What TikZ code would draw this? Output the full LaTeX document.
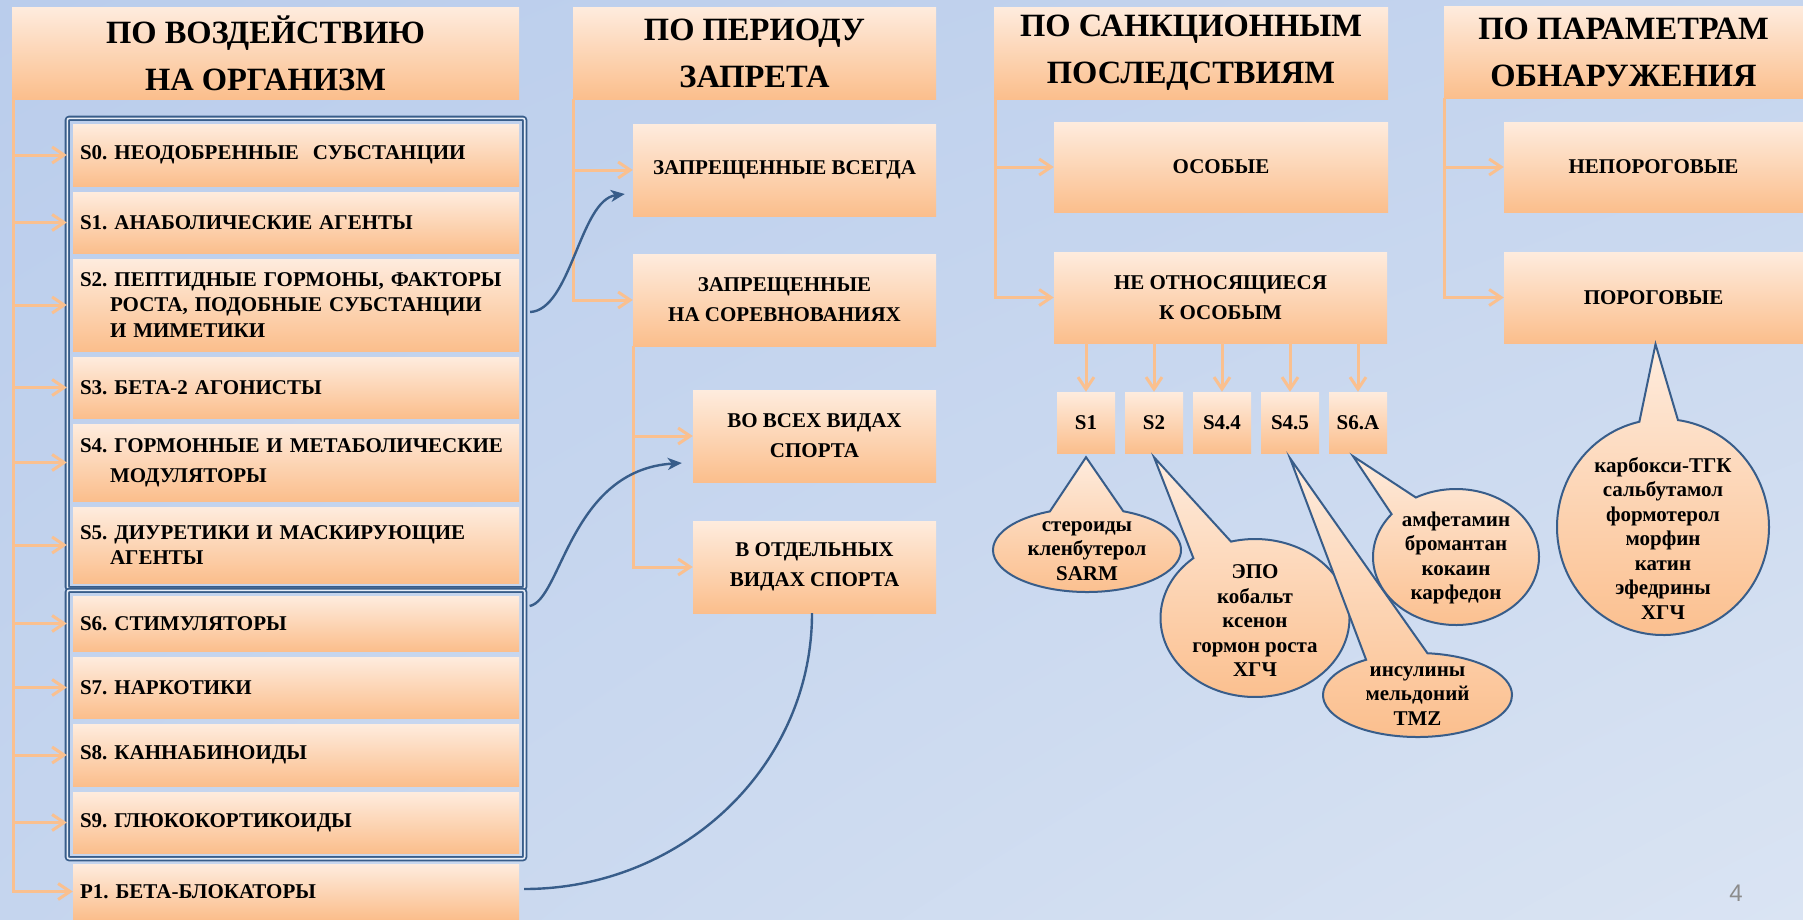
\documentclass[tikz,border=0pt]{standalone}
\usepackage{fontspec}
\setmainfont{Liberation Serif}
\newfontfamily\pgnumfont{Liberation Sans}
\usetikzlibrary{arrows.meta,shapes.callouts,fit,calc,shadings}
\definecolor{bgA}{RGB}{186,205,236}
\definecolor{bgM}{RGB}{197,213,238}
\definecolor{bgB}{RGB}{218,228,243}
\definecolor{boxT}{RGB}{254,236,222}
\definecolor{boxB}{RGB}{251,190,140}
\definecolor{ocol}{RGB}{250,192,143}
\definecolor{bcol}{RGB}{56,93,138}
\definecolor{pgnum}{RGB}{140,140,140}
\frenchspacing
\begin{document}
\begin{tikzpicture}[x=1pt,y=-1pt,
  box/.style={rectangle, top color=boxT, bottom color=boxB, draw=none, inner sep=0pt, align=center},
  hdr/.style={box, minimum height=92pt, font=\fontsize{32.5}{47}\selectfont\bfseries},
  lbox/.style={box, minimum width=446pt, text width=432pt, align=left, font=\fontsize{21}{25.5}\selectfont\bfseries},
  mbox/.style={box, minimum height=92pt, font=\fontsize{21}{30}\selectfont\bfseries},
  sbox/.style={box, minimum width=58pt, minimum height=61pt, font=\fontsize{21}{25}\selectfont\bfseries},
  frame/.style={draw=bcol, line width=1.8pt, double=bgM!40!white, double distance=1.6pt, rounded corners=2pt, inner xsep=5.5pt, inner ysep=5.5pt},
  oarrow/.style={draw=ocol, line width=3pt, -{Straight Barb[length=12pt,width=16pt]}},
  bcurve/.style={draw=bcol, line width=2.4pt},
  barrow/.style={bcurve, -{Stealth[length=14pt,width=12pt,inset=4pt]}},
  callout/.style={ellipse callout, draw=bcol, line width=2pt, top color=boxT, bottom color=boxB, inner sep=0pt},
  ctext/.style={align=center, font=\fontsize{21}{24.5}\selectfont\bfseries}
]
\useasboundingbox (0,0) rectangle (1803,919);
\shade[upper left=bgA, lower right=bgB, upper right=bgM, lower left=bgM] (0,0) rectangle (1803,919);

% headers
\node[hdr, minimum width=507pt] (h1) at (265.5,53) {ПО ВОЗДЕЙСТВИЮ\\НА ОРГАНИЗМ};
\node[hdr, minimum width=363pt] (h2) at (754.5,53) {ПО ПЕРИОДУ\\ЗАПРЕТА};
\node[hdr, minimum width=394pt] (h3) at (1191,53) {ПО САНКЦИОННЫМ\\ПОСЛЕДСТВИЯМ};
\node[hdr, minimum width=359pt] (h4) at (1623.5,52) {ПО ПАРАМЕТРАМ\\ОБНАРУЖЕНИЯ};

% column 1
\node[lbox, minimum height=62pt] (S0) at (296,155) {S0. НЕОДОБРЕННЫЕ\ \ СУБСТАНЦИИ};
\node[lbox, minimum height=61pt] (S1) at (296,222.5) {S1. АНАБОЛИЧЕСКИЕ АГЕНТЫ};
\node[lbox, minimum height=92pt] (S2) at (296,305) {S2. ПЕПТИДНЫЕ ГОРМОНЫ, ФАКТОРЫ\\\hspace*{30pt}РОСТА, ПОДОБНЫЕ СУБСТАНЦИИ\\\hspace*{30pt}И МИМЕТИКИ};
\node[lbox, minimum height=61pt] (S3) at (296,387.5) {S3. БЕТА-2 АГОНИСТЫ};
\node[lbox, minimum height=77pt] (S4) at (296,462.5) {S4. ГОРМОННЫЕ И МЕТАБОЛИЧЕСКИЕ\\[4.5pt]\hspace*{30pt}МОДУЛЯТОРЫ};
\node[lbox, minimum height=76pt] (S5) at (296,545) {S5. ДИУРЕТИКИ И МАСКИРУЮЩИЕ\\\hspace*{30pt}АГЕНТЫ};
\node[lbox, minimum height=55pt] (S6) at (296,623.5) {S6. СТИМУЛЯТОРЫ};
\node[lbox, minimum height=61pt] (S7) at (296,687.5) {S7. НАРКОТИКИ};
\node[lbox, minimum height=62pt] (S8) at (296,755) {S8. КАННАБИНОИДЫ};
\node[lbox, minimum height=61pt] (S9) at (296,822.5) {S9. ГЛЮКОКОРТИКОИДЫ};
\node[lbox, minimum height=55pt] (P1) at (296,891.5) {P1. БЕТА-БЛОКАТОРЫ};
\node[frame, fit=(S0)(S5)] (fr1) {};
\node[frame, fit=(S6)(S9)] (fr2) {};

% column 2
\node[mbox, minimum width=303pt] (ASV) at (784.5,170) {ЗАПРЕЩЕННЫЕ ВСЕГДА};
\node[mbox, minimum width=303pt] (ANS) at (784.5,300) {ЗАПРЕЩЕННЫЕ\\НА СОРЕВНОВАНИЯХ};
\node[mbox, minimum width=243pt] (AVS) at (814.5,436) {ВО ВСЕХ ВИДАХ\\СПОРТА};
\node[mbox, minimum width=243pt] (AOV) at (814.5,567) {В ОТДЕЛЬНЫХ\\ВИДАХ СПОРТА};

% column 3
\node[mbox, minimum width=334pt, minimum height=90pt] (OS) at (1221,167) {ОСОБЫЕ};
\node[mbox, minimum width=333pt, minimum height=91pt] (NO) at (1220.5,297.5) {НЕ ОТНОСЯЩИЕСЯ\\К ОСОБЫМ};
\node[sbox] (b1) at (1086,422.5) {S1};
\node[sbox] (b2) at (1154,422.5) {S2};
\node[sbox] (b3) at (1222,422.5) {S4.4};
\node[sbox] (b4) at (1290,422.5) {S4.5};
\node[sbox] (b5) at (1358,422.5) {S6.A};

% column 4
\node[mbox, minimum width=299pt, minimum height=90pt] (NP) at (1653.5,167) {НЕПОРОГОВЫЕ};
\node[mbox, minimum width=299pt, minimum height=91pt] (PG) at (1653.5,297.5) {ПОРОГОВЫЕ};

% orange connectors
\coordinate (t1) at ($(h1.south west)+(2,0)$);
\foreach \n in {S0,S1,S2,S3,S4,S5,S6,S7,S8,S9}
  \draw[oarrow] (t1) |- ([xshift=-6pt]\n.west);
\draw[oarrow] (t1) |- (P1.west);
\coordinate (t2) at ($(h2.south west)+(1,0)$);
\draw[oarrow] (t2) |- (ASV.west);
\draw[oarrow] (t2) |- (ANS.west);
\coordinate (t3) at ($(ANS.south west)+(1,0)$);
\draw[oarrow] (t3) |- (AVS.west);
\draw[oarrow] (t3) |- (AOV.west);
\coordinate (t4) at ($(h3.south west)+(2,0)$);
\draw[oarrow] (t4) |- (OS.west);
\draw[oarrow] (t4) |- (NO.west);
\foreach \b in {b1,b2,b3,b4,b5}
  \draw[oarrow] (\b |- NO.south) -- (\b.north);
\coordinate (t5) at ($(h4.south west)+(1,0)$);
\draw[oarrow] (t5) |- (NP.west);
\draw[oarrow] (t5) |- (PG.west);

% blue curves
\draw[barrow] ($(S2.east -| fr1.east)+(4.5,7)$) .. controls +(41,-2) and +(-45,6) .. ($(ASV.west)+(-8,24)$);
\draw[barrow] ($(S6.east -| fr2.east)+(4,-17.5)$) .. controls +(32,-6) and +(-112,7) .. ($(AVS.west)+(-11,27)$);
\draw[bcurve] ($(P1.east)+(5,-2.5)$) .. controls +(159,0) and +(0,152) .. ($(AOV.south)+(-2.5,0)$);

% callouts
\node[callout, minimum width=188pt, minimum height=84pt, callout pointer arc=46, callout absolute pointer={([yshift=-4pt]b1.south)}] (c1) at (1087,550) {};
\node[ctext] (c1t) at ($(c1.center)+(0,1)$) {стероиды\\кленбутерол\\SARM};
\node[callout, minimum width=189pt, minimum height=158pt, callout pointer arc=26, callout absolute pointer={([yshift=-4pt]b2.south)}] (c2) at (1255,618) {};
\node[ctext] (c2t) at ($(c2.center)+(0,3)$) {ЭПО\\кобальт\\ксенон\\гормон роста\\ХГЧ};
\node[callout, minimum width=189pt, minimum height=84pt, callout pointer arc=39, callout absolute pointer={([yshift=-5pt]b4.south)}] (c3) at (1417.5,695) {};
\node[ctext] (c3t) at ($(c3.center)+(0,1)$) {инсулины\\мельдоний\\TMZ};
\node[callout, minimum width=166pt, minimum height=136pt, callout pointer arc=22, callout absolute pointer={([xshift=-5pt,yshift=-3pt]b5.south)}] (c4) at (1456,557) {};
\node[ctext] (c4t) at ($(c4.center)+(0,1)$) {амфетамин\\бромантан\\кокаин\\карфедон};
\node[callout, minimum width=212pt, minimum height=216pt, callout pointer arc=21, callout absolute pointer={([xshift=2pt,yshift=-1pt]PG.south)}] (c5) at (1663,527) {};
\node[ctext] (c5t) at ($(c5.center)+(0,11)$) {карбокси-ТГК\\сальбутамол\\формотерол\\морфин\\катин\\эфедрины\\ХГЧ};

% page number
\node[font=\pgnumfont\fontsize{24}{24}\selectfont, text=pgnum] (pg) at (1736,893) {4};
\end{tikzpicture}
\end{document}
